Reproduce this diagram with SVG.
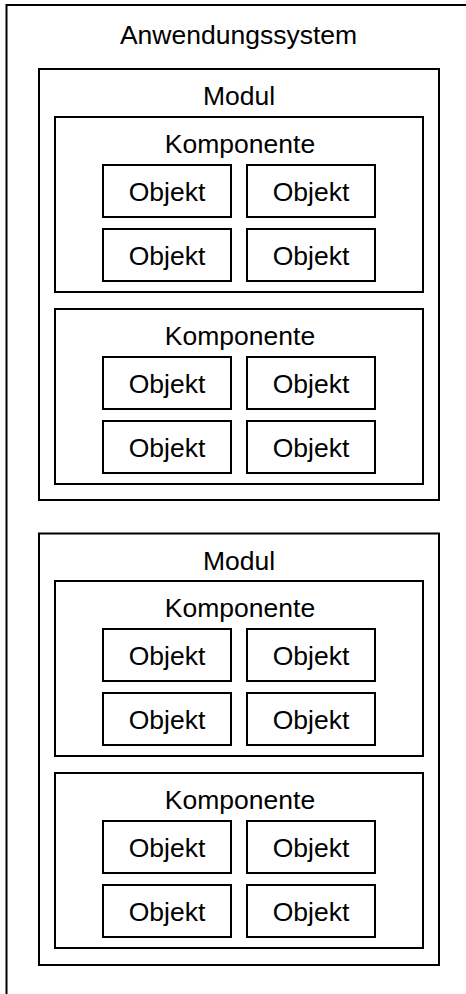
<svg xmlns="http://www.w3.org/2000/svg" width="466" height="994" viewBox="0 0 466 994">
<style>
rect{fill:#fff;stroke:#000;stroke-width:2}
text{font-family:"Liberation Sans",Arial,sans-serif;font-size:26.5px;text-anchor:middle;fill:#000}
</style>
<rect x="0" y="0" width="466" height="994" style="stroke:none"/>
<g id="system">
<rect x="6.5" y="5" width="470" height="1000"/>
<text x="238.5" y="44">Anwendungssystem</text>
</g>
<g id="modul1">
<rect x="39" y="69" width="400" height="431"/>
<text x="239" y="105">Modul</text>
</g>
<g id="komp1">
<rect x="55" y="117" width="368" height="175"/>
<text x="240" y="152.5">Komponente</text>
</g>
<g id="o1"><rect x="103" y="165" width="128" height="52"/><text x="167" y="200.5">Objekt</text></g>
<g id="o2"><rect x="247" y="165" width="128" height="52"/><text x="311" y="200.5">Objekt</text></g>
<g id="o3"><rect x="103" y="229" width="128" height="52"/><text x="167" y="264.5">Objekt</text></g>
<g id="o4"><rect x="247" y="229" width="128" height="52"/><text x="311" y="264.5">Objekt</text></g>
<g id="komp2">
<rect x="55" y="309" width="368" height="175"/>
<text x="240" y="344.5">Komponente</text>
</g>
<g id="o5"><rect x="103" y="357" width="128" height="52"/><text x="167" y="392.5">Objekt</text></g>
<g id="o6"><rect x="247" y="357" width="128" height="52"/><text x="311" y="392.5">Objekt</text></g>
<g id="o7"><rect x="103" y="421" width="128" height="52"/><text x="167" y="456.5">Objekt</text></g>
<g id="o8"><rect x="247" y="421" width="128" height="52"/><text x="311" y="456.5">Objekt</text></g>
<g id="modul2">
<rect x="39" y="533.5" width="400" height="431.5"/>
<text x="239" y="569.5">Modul</text>
</g>
<g id="komp3">
<rect x="55" y="581" width="368" height="175"/>
<text x="240" y="616.5">Komponente</text>
</g>
<g id="o9"><rect x="103" y="629" width="128" height="52"/><text x="167" y="664.5">Objekt</text></g>
<g id="o10"><rect x="247" y="629" width="128" height="52"/><text x="311" y="664.5">Objekt</text></g>
<g id="o11"><rect x="103" y="693" width="128" height="52"/><text x="167" y="728.5">Objekt</text></g>
<g id="o12"><rect x="247" y="693" width="128" height="52"/><text x="311" y="728.5">Objekt</text></g>
<g id="komp4">
<rect x="55" y="773" width="368" height="175"/>
<text x="240" y="808.5">Komponente</text>
</g>
<g id="o13"><rect x="103" y="821" width="128" height="52"/><text x="167" y="856.5">Objekt</text></g>
<g id="o14"><rect x="247" y="821" width="128" height="52"/><text x="311" y="856.5">Objekt</text></g>
<g id="o15"><rect x="103" y="885" width="128" height="52"/><text x="167" y="920.5">Objekt</text></g>
<g id="o16"><rect x="247" y="885" width="128" height="52"/><text x="311" y="920.5">Objekt</text></g>
<g id="connectors"></g>
</svg>
